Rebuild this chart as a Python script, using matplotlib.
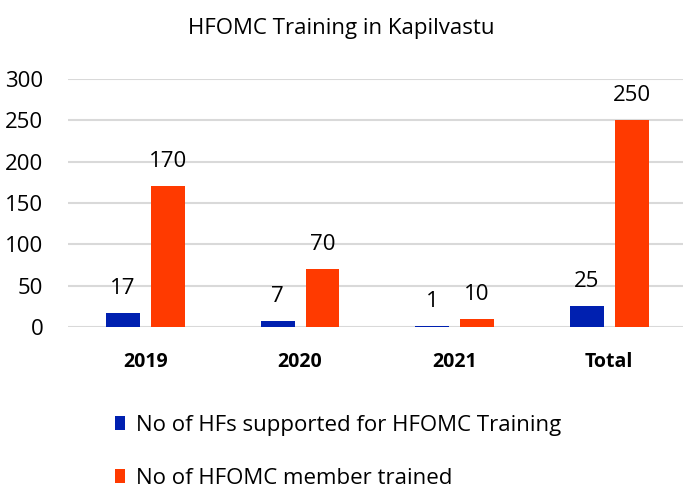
import matplotlib
matplotlib.use("Agg")
import matplotlib.pyplot as plt
import numpy as np

categories = ["2019", "2020", "2021", "Total"]
hfs_supported = [17, 7, 1, 25]
members_trained = [170, 70, 10, 250]
yticks = [0, 50, 100, 150, 200, 250, 300]
series_names = ["No of HFs supported for HFOMC Training", "No of HFOMC member trained"]
title = "HFOMC Training in Kapilvastu"

plt.rcParams['font.family'] = ['Open Sans', 'DejaVu Sans']

fig = plt.figure(figsize=(6.83, 4.99), dpi=100)
ax = fig.add_axes([0.100, 0.345, 0.905, 0.497])

x = np.arange(len(categories))
w = 0.22
off = 0.145
b1 = ax.bar(x - off, hfs_supported, w, color="#0020B0", label=series_names[0])
b2 = ax.bar(x + off, members_trained, w, color="#FF3A00", label=series_names[1])

for rect, v in zip(b1, hfs_supported):
    ax.annotate(str(v), (rect.get_x() + rect.get_width() / 2, rect.get_height()),
                xytext=(0, 10), textcoords="offset points", ha="center", va="bottom", fontsize=16)
for rect, v in zip(b2, members_trained):
    ax.annotate(str(v), (rect.get_x() + rect.get_width() / 2, rect.get_height()),
                xytext=(0, 10), textcoords="offset points", ha="center", va="bottom", fontsize=16)

ax.set_xlim(-0.5, len(categories) - 0.5)
ax.set_ylim(0, 300)
ax.set_yticks(yticks)
ax.set_yticklabels([str(t) for t in yticks], fontsize=16)
ax.set_xticks(x)
ax.set_xticklabels(categories, fontsize=14, fontweight="bold")
ax.tick_params(axis="both", length=0)
ax.tick_params(axis="x", pad=18)
ax.tick_params(axis="y", pad=18)
for s in ax.spines.values():
    s.set_visible(False)
ax.yaxis.grid(True, color="#D9D9D9", linewidth=1.5)
ax.set_axisbelow(True)

fig.text(0.5, 0.942, title, ha="center", va="center", fontsize=16)

fig.legend(handles=[b1, b2], labels=series_names, loc="upper left",
           bbox_to_anchor=(0.155, 0.186), frameon=False, fontsize=16,
           handlelength=0.45, handleheight=0.6, handletextpad=0.5, labelspacing=1.42,
           borderaxespad=0)

fig.savefig("out.png", dpi=100)
